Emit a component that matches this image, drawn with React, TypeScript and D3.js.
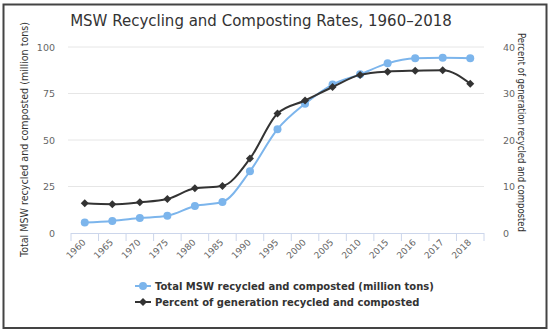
import React from "react";
import * as d3 from "d3";

const years = ["1960","1965","1970","1975","1980","1985","1990","1995","2000","2005","2010","2015","2016","2017","2018"];
const tons = [5.6, 6.5, 8.0, 9.3, 14.5, 16.7, 33.2, 55.8, 69.5, 79.8, 85.3, 91.2, 93.9, 94.2, 94.0];
const percent = [6.4, 6.2, 6.6, 7.3, 9.6, 10.1, 16.0, 25.7, 28.5, 31.4, 34.0, 34.7, 34.9, 35.0, 32.1];
const leftTicks = [0, 25, 50, 75, 100];
const rightTicks = [0, 10, 20, 30, 40];
const seriesNames = ["Total MSW recycled and composted (million tons)", "Percent of generation recycled and composted"];
const colors = ["#7cb5ec", "#333333"];

const FONT = "'DejaVu Sans', Verdana, sans-serif";

export default function App() {
  const W = 550, H = 332;
  const left = 71, right = 484, top = 47, bottom = 233;
  const x = d3.scaleBand<string>().domain(years).range([left, right]);
  const cx = (y: string) => (x(y) as number) + x.bandwidth() / 2;
  const yL = d3.scaleLinear().domain([0, 100]).range([bottom, top]);
  const yR = d3.scaleLinear().domain([0, 40]).range([bottom, top]);
  const line = d3.line<[number, number]>().x(d => d[0]).y(d => d[1]).curve(d3.curveMonotoneX);
  const tonPts: [number, number][] = years.map((yr, i) => [cx(yr), yL(tons[i])]);
  const pctPts: [number, number][] = years.map((yr, i) => [cx(yr), yR(percent[i])]);
  const diamond = (px: number, py: number, r: number) => `M${px},${py - r}L${px + r},${py}L${px},${py + r}L${px - r},${py}Z`;
  const boundaries = [...years.map(y => x(y) as number), right];

  return (
    <svg width={W} height={H} style={{ position: "absolute", left: 0, top: 0, background: "#fff" }} fontFamily={FONT}>
      <rect x={0} y={0} width={W} height={H} fill="#fff" />
      <rect x={3.5} y={4.5} width={543} height={323.5} fill="none" stroke="#444" strokeWidth={2} />
      <text x={261} y={26} textAnchor="middle" fontSize={15} fill="#333">MSW Recycling and Composting Rates, 1960–2018</text>

      {leftTicks.map(t => (
        <g key={"g" + t}>
          {t !== 0 && <line x1={left - 3} x2={right} y1={yL(t)} y2={yL(t)} stroke="#e6e6e6" strokeWidth={1} />}
          <text x={55} y={yL(t) + 3.5} textAnchor="end" fontSize={9.5} fill="#666">{t}</text>
        </g>
      ))}
      {rightTicks.map(t => (
        <text key={"r" + t} x={503} y={yR(t) + 3.5} textAnchor="start" fontSize={9.5} fill="#666">{t}</text>
      ))}

      <line x1={left} x2={right} y1={bottom + 0.5} y2={bottom + 0.5} stroke="#ccd6eb" strokeWidth={1} />
      {boundaries.map((b, i) => (
        <line key={"t" + i} x1={b} x2={b} y1={bottom} y2={bottom + 8} stroke="#ccd6eb" strokeWidth={1} />
      ))}
      {years.map(yr => (
        <text key={"x" + yr} transform={`translate(${cx(yr) + 1.5},${bottom + 10}) rotate(-45)`} textAnchor="end" fontSize={9} fill="#666">{yr}</text>
      ))}

      <text transform={`translate(28,139.5) rotate(-90)`} textAnchor="middle" fontSize={10} fill="#333" textLength={235} lengthAdjust="spacingAndGlyphs">Total MSW recycled and composted (million tons)</text>
      <text transform={`translate(518,132.5) rotate(90)`} textAnchor="middle" fontSize={10} fill="#333" textLength={199} lengthAdjust="spacingAndGlyphs">Percent of generation recycled and composted</text>

      <path d={line(tonPts) || ""} fill="none" stroke={colors[0]} strokeWidth={2} />
      {tonPts.map((p, i) => <circle key={"c" + i} cx={p[0]} cy={p[1]} r={4} fill={colors[0]} />)}
      <path d={line(pctPts) || ""} fill="none" stroke={colors[1]} strokeWidth={2} />
      {pctPts.map((p, i) => <path key={"d" + i} d={diamond(p[0], p[1], 4)} fill={colors[1]} />)}

      {seriesNames.map((n, i) => {
        const ly = 286 + i * 16;
        return (
          <g key={"l" + i}>
            <line x1={135} x2={151} y1={ly} y2={ly} stroke={colors[i]} strokeWidth={2} />
            {i === 0 ? <circle cx={143} cy={ly} r={4} fill={colors[0]} /> : <path d={diamond(143, ly, 4)} fill={colors[1]} />}
            <text x={155} y={ly + 3.5} fontSize={10} fontWeight="bold" fill="#333">{n}</text>
          </g>
        );
      })}
    </svg>
  );
}
